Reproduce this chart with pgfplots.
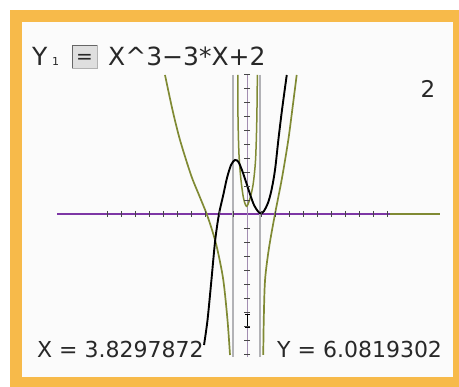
\documentclass[border=0pt]{standalone}
\usepackage{pgfplots}
\pgfplotsset{compat=1.18}
\usepackage{fontspec}
\setmainfont{DejaVu Sans}
\definecolor{frameorange}{RGB}{247,186,74}
\definecolor{olive}{RGB}{128,138,52}
\definecolor{axpurple}{RGB}{125,55,165}
\definecolor{vgray}{RGB}{178,178,182}
\definecolor{tickgray}{RGB}{70,70,70}
\definecolor{txt}{RGB}{40,40,40}
\begin{document}
\begin{tikzpicture}
\begin{axis}[
  width=459pt, height=387pt, scale only axis,
  xmin=-17.643, xmax=15.143, ymin=-12.357, ymax=15.286,
  hide axis, clip=false,
]
% frame
\fill[white] (rel axis cs:0,0) rectangle (rel axis cs:1,1);
\fill[frameorange] (rel axis cs:0.0218,0) rectangle (rel axis cs:1,0.9742);
\fill[white!97!gray] (rel axis cs:0.0479,0.0258) rectangle (rel axis cs:0.9869,0.9432);

% x-axis
\addplot[olive, line width=1.5pt] coordinates {(-10,0) (13.79,0)};
\addplot[axpurple, line width=1.1pt] coordinates {(-13.57,0) (10.2,0)};
\addplot[only marks, mark=|, mark size=3pt, tickgray, mark options={line width=0.9pt}] coordinates {
(-10,0) (-9,0) (-8,0) (-7,0) (-6,0) (-5,0) (-4,0) (-3,0) (-2,0) (-1,0)
(1,0) (2,0) (3,0) (4,0) (5,0) (6,0) (7,0) (8,0) (9,0) (10,0)};

% vertical lines at critical points
\addplot[vgray, line width=1.3pt] coordinates {(-1.0,9.93) (-1.0,-10.21)};
\addplot[vgray, line width=1.3pt] coordinates {(0.93,9.93) (0.93,-10.21)};

% y-axis
\addplot[vgray!70!axpurple, line width=0.9pt] coordinates {(0,9.93) (0,-10.21)};
\addplot[only marks, mark=-, mark size=3pt, tickgray, mark options={line width=0.9pt}] coordinates {
(0,10) (0,9) (0,8) (0,7) (0,6) (0,5) (0,4) (0,3) (0,2) (0,1)
(0,-1) (0,-2) (0,-3) (0,-4) (0,-5) (0,-6) (0,-7) (0,-8) (0,-9) (0,-10)};
% trace cursor
\addplot[black, line width=0.9pt, mark=-, mark size=2.5pt] coordinates {(0,-7.21) (0,-8.07)};

% green curves
\addplot[olive, line width=1.7pt, smooth] coordinates {
(-5.857,9.93) (-5.321,7.43) (-4.786,5.286) (-4.0,2.786) (-3.43,1.36) (-2.879,0)
(-2.45,-1.29) (-2.107,-2.571) (-1.693,-4.714) (-1.393,-7.571) (-1.214,-10.07)};
\addplot[olive, line width=1.7pt, smooth] coordinates {
(3.55,9.93) (3.25,7.57) (2.95,5.29) (2.5,2.57) (2.0,0) (1.57,-2.43)
(1.29,-4.71) (1.2,-7.43) (1.16,-10.07)};
\addplot[olive, line width=1.5pt, smooth] coordinates {
(-0.66,9.93) (-0.64,6.71) (-0.57,4.21) (-0.43,2.43) (-0.25,1.14) (-0.04,0.55)
(0.18,1.0) (0.43,2.07) (0.61,3.86) (0.7,6.71) (0.74,9.93)};

% black cubic Y1 = X^3-3X+2
\addplot[black, line width=1.9pt, smooth] coordinates {
(-3.07,-9.36) (-2.82,-7.57) (-2.54,-4.71) (-2.27,-1.86) (-2.0,0)
(-1.71,1.29) (-1.43,2.57) (-1.14,3.5) (-0.86,3.86) (-0.61,3.71) (-0.36,3.14)
(-0.07,2.29) (0.21,1.43) (0.5,0.64) (0.79,0.18) (1.0,0.04) (1.21,0.21)
(1.5,0.79) (1.75,1.71) (2.0,3.14) (2.24,5.29) (2.5,7.43) (2.84,9.93)};

% texts
\node[anchor=base west, inner sep=0pt, text=txt, font=\fontsize{25}{25}\selectfont] at (rel axis cs:0.0697,0.832) {Y};
\node[anchor=base west, inner sep=0pt, text=txt, font=\fontsize{11}{11}\selectfont] at (rel axis cs:0.113,0.832) {1};
\fill[gray!25] (rel axis cs:0.157,0.824) rectangle (rel axis cs:0.211,0.884);
\draw[gray!80!black, line width=0.6pt] (rel axis cs:0.157,0.824) -- (rel axis cs:0.157,0.884) -- (rel axis cs:0.211,0.884);
\draw[gray!60, line width=0.6pt] (rel axis cs:0.211,0.884) -- (rel axis cs:0.211,0.824) -- (rel axis cs:0.157,0.824);
\node[anchor=base, inner sep=0pt, text=txt, font=\fontsize{20}{20}\selectfont] at (rel axis cs:0.184,0.836) {=};
\node[anchor=base west, inner sep=0pt, text=txt, font=\fontsize{25}{25}\selectfont] at (rel axis cs:0.2353,0.832) {X\textasciicircum3−3*X+2};
\node[anchor=base, inner sep=0pt, text=txt, font=\fontsize{23}{23}\selectfont] at (rel axis cs:0.9325,0.749) {2};
\node[anchor=base west, inner sep=0pt, text=txt, font=\fontsize{22}{22}\selectfont] at (rel axis cs:0.0806,0.075) {X = 3.8297872};
\node[anchor=base west, inner sep=0pt, text=txt, font=\fontsize{22}{22}\selectfont] at (rel axis cs:0.6035,0.075) {Y = 6.0819302};
\end{axis}
\end{tikzpicture}
\end{document}
